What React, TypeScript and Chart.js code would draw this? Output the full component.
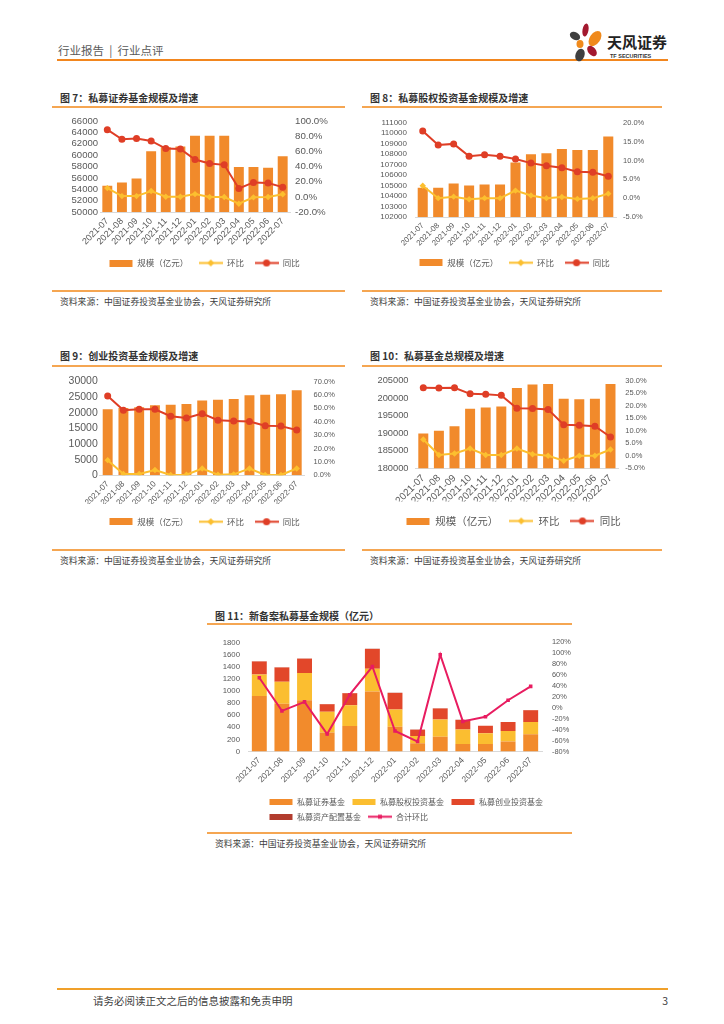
import React, { useEffect, useRef } from 'react';
import { Chart, registerables } from 'chart.js';

Chart.register(...registerables);

// ---------------- data ----------------
const months = ['2021-07', '2021-08', '2021-09', '2021-10', '2021-11', '2021-12', '2022-01', '2022-02', '2022-03', '2022-04', '2022-05', '2022-06', '2022-07'];
const comboLegend = ['规模（亿元）', '环比', '同比'];

// 图7 私募证券基金
const fig7Scale = [54600, 55200, 55900, 60700, 61400, 61500, 63400, 63400, 63400, 57900, 57900, 57800, 59800];
const fig7MoM = [11.5, 1.0, 1.0, 7.6, 0.1, 0.1, 3.6, -0.3, -0.2, -9.1, -0.7, -0.2, 3.4];
const fig7YoY = [88.6, 75.9, 76.8, 73.7, 63.6, 63.2, 49.2, 43.9, 42.2, 11.1, 19.0, 18.1, 12.8];
const fig7Left = [50000, 66000, 2000];
const fig7Right = [-20, 100, 20];

// 图8 私募股权投资基金
const fig8Scale = [104800, 104800, 105200, 105000, 105100, 105100, 107200, 108000, 108100, 108500, 108400, 108400, 109700];
const fig8MoM = [3.3, 0.0, 0.4, -0.3, 0.0, 0.0, 2.0, 0.7, 0.0, 0.3, -0.2, 0.0, 1.2];
const fig8YoY = [17.8, 14.1, 14.4, 11.1, 11.5, 11.1, 10.4, 9.3, 8.6, 8.1, 7.0, 6.9, 5.8];
const fig8Left = [102000, 111000, 1000];
const fig8Right = [-5, 20, 5];

// 图9 创业投资基金
const fig9Scale = [21100, 21500, 21800, 22400, 22600, 22800, 23900, 24200, 24400, 25600, 25800, 25900, 27200];
const fig9MoM = [11.3, 1.0, 1.0, 3.9, 0.2, 0.5, 5.1, 0.5, 0.7, 5.1, 0.2, 0.2, 5.1];
const fig9YoY = [59.2, 48.5, 49.2, 49.2, 44.1, 42.8, 46.0, 41.1, 40.6, 40.1, 37.0, 36.7, 33.8];
const fig9Left = [0, 30000, 5000];
const fig9Right = [0, 70, 10];

// 图10 私募基金总规模
const fig10Scale = [189900, 190700, 192000, 197000, 197300, 197600, 202900, 203900, 204000, 199800, 199700, 199800, 204000];
const fig10MoM = [6.5, 0.3, 0.9, 2.9, 0.3, 0.3, 2.9, 0.6, 0.0, -2.0, 0.0, 0.0, 2.5];
const fig10YoY = [27.1, 27.0, 27.1, 24.7, 24.5, 24.1, 19.0, 18.9, 18.5, 12.4, 12.2, 11.8, 7.5];
const fig10Left = [180000, 205000, 5000];
const fig10Right = [-5, 30, 5];

// 图11 新备案私募基金规模
const fig11Names = ['私募证券基金', '私募股权投资基金', '私募创业投资基金', '私募资产配置基金'];
const fig11LineName = '合计环比';
const fig11Sec = [915, 790, 845, 315, 420, 990, 410, 135, 245, 125, 125, 165, 285];
const fig11PE = [355, 360, 450, 340, 345, 375, 285, 120, 285, 240, 175, 175, 200];
const fig11VC = [215, 235, 235, 125, 195, 325, 270, 105, 180, 155, 125, 145, 195];
const fig11Alloc = [5, 4, 5, 3, 4, 6, 4, 2, 3, 3, 2, 3, 4];
const fig11MoM = [55.2, -5.5, 11.0, -48.0, 24.2, 75.8, -42.4, -61.8, 97.6, -24.8, -16.4, 14.0, 39.4];
const fig11Left = [0, 1800, 200];
const fig11Right = [-80, 120, 20];

// ---------------- styles ----------------
const FONT_NUM = "'Liberation Sans', 'Noto Sans CJK SC', sans-serif";
const FONT_CJK = "'Noto Sans CJK SC', 'Liberation Sans', sans-serif";
const GREY = '#595959';
const ORANGE = '#f18a2b';
const YELLOW = '#fcbf2f';
const RED = '#df3e26';
const C11 = ['#f28b2c', '#fbbe30', '#e2472a', '#b23c2e'];
const PINK = '#e81c60';

Chart.defaults.font.family = FONT_NUM;
Chart.defaults.color = GREY;

type Box = { x: number; y: number; w: number; h: number };
type Area = { l: number; t: number; r: number; b: number };

function mkImg(w: number, h: number, draw: (c: CanvasRenderingContext2D) => void) {
  const c = document.createElement('canvas');
  c.width = w;
  c.height = h;
  const ctx = c.getContext('2d')!;
  draw(ctx);
  return c;
}

function barImg(color: string, h: number) {
  return mkImg(24, h, (ctx) => {
    ctx.fillStyle = color;
    ctx.fillRect(0.5, 0, 23, h);
  });
}

function lineImg(color: string, marker: 'diamond' | 'circle' | 'square') {
  return mkImg(24, 9, (ctx) => {
    ctx.strokeStyle = color;
    ctx.lineWidth = 2;
    ctx.beginPath();
    ctx.moveTo(0, 4.5);
    ctx.lineTo(24, 4.5);
    ctx.stroke();
    ctx.fillStyle = color;
    ctx.beginPath();
    if (marker === 'diamond') {
      ctx.moveTo(12, 1);
      ctx.lineTo(15.5, 4.5);
      ctx.lineTo(12, 8);
      ctx.lineTo(8.5, 4.5);
      ctx.closePath();
    } else if (marker === 'circle') {
      ctx.arc(12, 4.5, 3.6, 0, Math.PI * 2);
    } else {
      ctx.rect(10, 2.5, 4, 4);
    }
    ctx.fill();
  });
}

function legendMover(box: Box, lx: number, ly: number, fs: number, pad: number) {
  return {
    id: 'legendMover',
    afterLayout(chart: any) {
      const l = chart.legend;
      if (!l) return;
      const w = l.right - l.left;
      const h = l.bottom - l.top;
      l.left = lx - box.x - pad;
      l.right = l.left + w;
      l.top = ly - box.y - pad - fs / 2;
      l.bottom = l.top + h;
    },
  };
}

interface ComboCfg {
  box: Box;
  area: Area;
  bars: number[];
  mom: number[];
  yoy: number[];
  left: number[];
  right: number[];
  leftFont: number;
  leftPad: number;
  rightFont: number;
  rightPad: number;
  xFont: number;
  barPct: number;
  legend: { x: number; y: number; size: number; pad: number };
}

function buildCombo(canvas: HTMLCanvasElement, c: ComboCfg) {
  const { box, area } = c;
  const wl = area.l - box.x;
  const wr = box.x + box.w - area.r;
  const padTop = area.t - box.y;
  const areaBottom = area.b - box.y;
  const imgs = [barImg(ORANGE, 7), lineImg(YELLOW, 'diamond'), lineImg(RED, 'circle')];
  const colors = [ORANGE, YELLOW, RED];
  return new Chart(canvas, {
    type: 'bar',
    data: {
      labels: months,
      datasets: [
        { type: 'bar', label: comboLegend[0], data: c.bars, backgroundColor: ORANGE, yAxisID: 'y', order: 3, barPercentage: c.barPct, categoryPercentage: 1 },
        { type: 'line', label: comboLegend[1], data: c.mom, borderColor: YELLOW, backgroundColor: YELLOW, borderWidth: 2, pointStyle: 'rectRot', pointRadius: 3.2, pointBorderWidth: 0, yAxisID: 'y1', order: 2 },
        { type: 'line', label: comboLegend[2], data: c.yoy, borderColor: RED, backgroundColor: RED, borderWidth: 2, pointStyle: 'circle', pointRadius: 3.5, pointBorderWidth: 0, yAxisID: 'y1', order: 1 },
      ],
    },
    options: {
      responsive: false,
      animation: false,
      layout: { padding: { top: padTop, left: 0, right: 0, bottom: 0 } },
      plugins: {
        tooltip: { enabled: false },
        legend: {
          position: 'bottom',
          align: 'start',
          labels: {
            usePointStyle: true,
            pointStyleWidth: 24,
            padding: c.legend.pad,
            font: { size: c.legend.size, family: FONT_CJK },
            color: GREY,
            generateLabels: () =>
              comboLegend.map((t, i) => ({
                text: t,
                pointStyle: imgs[i],
                fillStyle: colors[i],
                strokeStyle: colors[i],
                lineWidth: 0,
                hidden: false,
                datasetIndex: i,
                fontColor: GREY,
                rotation: 0,
              })),
          },
        },
      },
      scales: {
        x: {
          type: 'category',
          offset: true,
          grid: { display: false, drawTicks: false },
          border: { display: true, color: '#d9d9d9' },
          ticks: { autoSkip: false, minRotation: 45, maxRotation: 45, padding: 4, color: GREY, font: { size: c.xFont, family: FONT_NUM } },
          afterFit: (s: any) => {
            const lh = s.chart.legend ? s.chart.legend.height : 0;
            s.height = Math.max(1, box.h - areaBottom - lh);
          },
        },
        y: {
          position: 'left',
          min: c.left[0],
          max: c.left[1],
          grid: { display: false, drawTicks: false },
          border: { display: false },
          ticks: {
            autoSkip: false,
            stepSize: c.left[2],
            padding: c.leftPad,
            color: GREY,
            font: { size: c.leftFont, family: FONT_NUM },
            callback: (v: any) => String(Math.round(Number(v))),
          },
          afterFit: (s: any) => {
            s.width = wl;
          },
        },
        y1: {
          position: 'right',
          min: c.right[0],
          max: c.right[1],
          grid: { display: false, drawTicks: false },
          border: { display: false },
          ticks: {
            autoSkip: false,
            stepSize: c.right[2],
            padding: c.rightPad,
            color: GREY,
            font: { size: c.rightFont, family: FONT_NUM },
            callback: (v: any) => Number(v).toFixed(1) + '%',
          },
          afterFit: (s: any) => {
            s.width = wr;
          },
        },
      },
    },
    plugins: [legendMover(box, c.legend.x, c.legend.y, c.legend.size, c.legend.pad)],
  } as any);
}

function buildFig11(canvas: HTMLCanvasElement, box: Box, area: Area) {
  const wl = area.l - box.x;
  const wr = box.x + box.w - area.r;
  const padTop = area.t - box.y;
  const areaBottom = area.b - box.y;
  const legSize = 8;
  const legPad = 7;
  const stacks = [fig11Sec, fig11PE, fig11VC, fig11Alloc];
  const imgs = [...C11.map((col) => barImg(col, 6)), lineImg(PINK, 'square')];
  const names = [...fig11Names, fig11LineName];
  const cols = [...C11, PINK];
  return new Chart(canvas, {
    type: 'bar',
    data: {
      labels: months,
      datasets: [
        ...stacks.map((d, i) => ({
          type: 'bar',
          label: fig11Names[i],
          data: d,
          backgroundColor: C11[i],
          stack: 's',
          yAxisID: 'y',
          order: 2,
          barPercentage: 0.66,
          categoryPercentage: 1,
        })),
        { type: 'line', label: fig11LineName, data: fig11MoM, borderColor: PINK, backgroundColor: PINK, borderWidth: 2, pointStyle: 'rect', pointRadius: 2.5, pointBorderWidth: 0, yAxisID: 'y1', order: 1 },
      ],
    },
    options: {
      responsive: false,
      animation: false,
      layout: { padding: { top: padTop, left: 0, right: 0, bottom: 0 } },
      plugins: {
        tooltip: { enabled: false },
        legend: {
          position: 'bottom',
          align: 'start',
          labels: {
            usePointStyle: true,
            pointStyleWidth: 24,
            padding: legPad,
            font: { size: legSize, family: FONT_CJK },
            color: GREY,
            generateLabels: () =>
              names.map((t, i) => ({
                text: t,
                pointStyle: imgs[i],
                fillStyle: cols[i],
                strokeStyle: cols[i],
                lineWidth: 0,
                hidden: false,
                datasetIndex: i,
                fontColor: GREY,
                rotation: 0,
              })),
          },
        },
      },
      scales: {
        x: {
          type: 'category',
          stacked: true,
          offset: true,
          grid: { display: false, drawTicks: false },
          border: { display: true, color: '#d9d9d9' },
          ticks: { autoSkip: false, minRotation: 45, maxRotation: 45, padding: 4, color: GREY, font: { size: 8.5, family: FONT_NUM } },
          afterFit: (s: any) => {
            const lh = s.chart.legend ? s.chart.legend.height : 0;
            s.height = Math.max(1, box.h - areaBottom - lh);
          },
        },
        y: {
          position: 'left',
          stacked: true,
          min: fig11Left[0],
          max: fig11Left[1],
          grid: { display: false, drawTicks: false },
          border: { display: false },
          ticks: {
            autoSkip: false,
            stepSize: fig11Left[2],
            padding: 8,
            color: GREY,
            font: { size: 7.8, family: FONT_NUM },
            callback: (v: any) => String(Math.round(Number(v))),
          },
          afterFit: (s: any) => {
            s.width = wl;
          },
        },
        y1: {
          position: 'right',
          min: fig11Right[0],
          max: fig11Right[1],
          grid: { display: false, drawTicks: false },
          border: { display: false },
          ticks: {
            autoSkip: false,
            stepSize: fig11Right[2],
            padding: 10,
            color: GREY,
            font: { size: 7.4, family: FONT_NUM },
            callback: (v: any) => Math.round(Number(v)) + '%',
          },
          afterFit: (s: any) => {
            s.width = wr;
          },
        },
      },
    },
    plugins: [legendMover(box, 269, 801.7, legSize, legPad)],
  } as any);
}

// ---------------- components ----------------
function ChartCanvas({ box, build }: { box: Box; build: (c: HTMLCanvasElement) => Chart }) {
  const ref = useRef<HTMLCanvasElement | null>(null);
  useEffect(() => {
    const chart = build(ref.current!);
    return () => chart.destroy();
  }, []);
  return (
    <div style={{ position: 'absolute', left: box.x, top: box.y, width: box.w, height: box.h }}>
      <canvas ref={ref} width={box.w} height={box.h} style={{ display: 'block', width: box.w, height: box.h }} />
    </div>
  );
}

function Txt({ x, y, size, color = '#404040', bold = false, right = false, children }: any) {
  const lh = Math.round(size * 1.5);
  const style: any = {
    position: 'absolute',
    top: y - lh / 2,
    fontSize: size,
    lineHeight: lh + 'px',
    color,
    fontWeight: bold ? 700 : 400,
    whiteSpace: 'pre',
    fontFamily: FONT_CJK,
  };
  if (right) style.right = 724 - x;
  else style.left = x;
  return <div style={style}>{children}</div>;
}

function HLine({ x1, x2, y, h = 1, color }: any) {
  return <div style={{ position: 'absolute', left: x1, top: y - h / 2, width: x2 - x1, height: h, background: color }} />;
}

const TITLE_LINE = '#f5a652';
const SOURCE = '资料来源：中国证券投资基金业协会，天风证券研究所';

function Panel({ x1, x2, titleX, titleY, lineY, srcLineY, srcY, title }: any) {
  return (
    <>
      <Txt x={titleX} y={titleY} size={10} bold color="#333333">{title}</Txt>
      <HLine x1={x1} x2={x2} y={lineY} h={1.2} color={TITLE_LINE} />
      <HLine x1={x1} x2={x2} y={srcLineY} h={1.2} color={TITLE_LINE} />
      <Txt x={titleX} y={srcY} size={8.8} color="#404040">{SOURCE}</Txt>
    </>
  );
}

const box7: Box = { x: 52, y: 110, w: 296, h: 165 };
const box8: Box = { x: 362, y: 110, w: 306, h: 165 };
const box9: Box = { x: 52, y: 368, w: 296, h: 165 };
const box10: Box = { x: 362, y: 368, w: 306, h: 165 };
const box11: Box = { x: 207, y: 628, w: 365, h: 200 };

export default function App() {
  useEffect(() => {
    document.body.style.margin = '0';
  }, []);
  return (
    <div style={{ position: 'absolute', left: 0, top: 0, width: 724, height: 1024, background: '#ffffff', overflow: 'hidden', fontFamily: FONT_CJK }}>
      {/* header */}
      <Txt x={58} y={50} size={11.5} color="#595959">{'行业报告  |  行业点评'}</Txt>
      <HLine x1={57} x2={668} y={60} h={2} color="#f2861e" />
      <svg style={{ position: 'absolute', left: 0, top: 0 }} width={724} height={80}>
        <ellipse cx={585.5} cy={30} rx={3} ry={6.5} fill="#a3192f" transform="rotate(10 585.5 30)" />
        <ellipse cx={595} cy={38.5} rx={5.2} ry={8.5} fill="#f08a1c" transform="rotate(35 595 38.5)" />
        <ellipse cx={575} cy={36} rx={5.5} ry={3.8} fill="#3f3f3f" transform="rotate(30 575 36)" />
        <ellipse cx={580} cy={44} rx={3.5} ry={4} fill="#f08a1c" />
        <ellipse cx={592} cy={51} rx={3.8} ry={6} fill="#a3192f" transform="rotate(-40 592 51)" />
        <ellipse cx={580} cy={55} rx={4.5} ry={6.5} fill="#3f3f3f" transform="rotate(20 580 55)" />
      </svg>
      <Txt x={607} y={41} size={15} bold color="#222222">天风证券</Txt>
      <div style={{ position: 'absolute', left: 610, top: 52.5, fontSize: 5.5, lineHeight: '6px', color: '#333', fontFamily: FONT_NUM, fontWeight: 700, whiteSpace: 'nowrap' }}>TF SECURITIES</div>

      {/* panels */}
      <Panel x1={52} x2={345} titleX={60} titleY={97.7} lineY={107} srcLineY={291} srcY={301} title="图 7：私募证券基金规模及增速" />
      <Panel x1={362} x2={662} titleX={370} titleY={97.7} lineY={107} srcLineY={291} srcY={301} title="图 8：私募股权投资基金规模及增速" />
      <Panel x1={52} x2={345} titleX={60} titleY={355} lineY={366} srcLineY={550} srcY={560} title="图 9：创业投资基金规模及增速" />
      <Panel x1={362} x2={662} titleX={370} titleY={355} lineY={366} srcLineY={550} srcY={560} title="图 10：私募基金总规模及增速" />
      <Panel x1={207} x2={572} titleX={215} titleY={615} lineY={624} srcLineY={833} srcY={843} title="图 11：新备案私募基金规模（亿元）" />

      <ChartCanvas
        box={box7}
        build={(cv) =>
          buildCombo(cv, {
            box: box7,
            area: { l: 100, t: 121, r: 290, b: 212 },
            bars: fig7Scale, mom: fig7MoM, yoy: fig7YoY,
            left: fig7Left, right: fig7Right,
            leftFont: 9.5, leftPad: 2, rightFont: 9.7, rightPad: 5, xFont: 9, barPct: 0.68,
            legend: { x: 109, y: 263, size: 8.5, pad: 10.5 },
          })
        }
      />
      <ChartCanvas
        box={box8}
        build={(cv) =>
          buildCombo(cv, {
            box: box8,
            area: { l: 415, t: 120.7, r: 616, b: 217 },
            bars: fig8Scale, mom: fig8MoM, yoy: fig8YoY,
            left: fig8Left, right: fig8Right,
            leftFont: 8, leftPad: 8, rightFont: 7.5, rightPad: 7, xFont: 7.8, barPct: 0.65,
            legend: { x: 419, y: 262.7, size: 8.5, pad: 10.5 },
          })
        }
      />
      <ChartCanvas
        box={box9}
        build={(cv) =>
          buildCombo(cv, {
            box: box9,
            area: { l: 99.8, t: 380, r: 304.6, b: 475.3 },
            bars: fig9Scale, mom: fig9MoM, yoy: fig9YoY,
            left: fig9Left, right: fig9Right,
            leftFont: 10.5, leftPad: 2, rightFont: 7.5, rightPad: 9, xFont: 8.2, barPct: 0.63,
            legend: { x: 109, y: 521.7, size: 8.5, pad: 10.5 },
          })
        }
      />
      <ChartCanvas
        box={box10}
        build={(cv) =>
          buildCombo(cv, {
            box: box10,
            area: { l: 415.5, t: 380, r: 618.3, b: 468.3 },
            bars: fig10Scale, mom: fig10MoM, yoy: fig10YoY,
            left: fig10Left, right: fig10Right,
            leftFont: 9.3, leftPad: 7, rightFont: 7.5, rightPad: 7, xFont: 10, barPct: 0.64,
            legend: { x: 406, y: 521, size: 10.5, pad: 11 },
          })
        }
      />
      <ChartCanvas box={box11} build={(cv) => buildFig11(cv, box11, { l: 248, t: 641.7, r: 542, b: 751.5 })} />

      {/* footer */}
      <HLine x1={57} x2={668} y={989} h={2.5} color="#f0a02a" />
      <Txt x={93} y={1001} size={10.5} color="#404040">请务必阅读正文之后的信息披露和免责申明</Txt>
      <Txt x={668} y={1001} size={10.5} color="#404040" right>3</Txt>
    </div>
  );
}
